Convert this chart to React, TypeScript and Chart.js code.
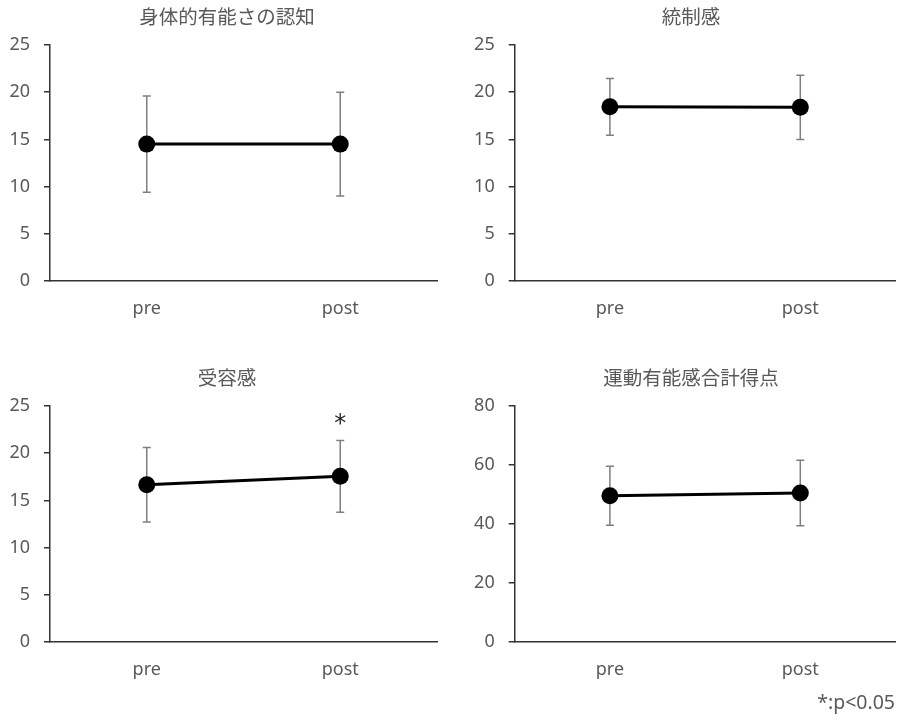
import React, { useEffect, useRef } from 'react';
import { Chart, registerables } from 'chart.js';
Chart.register(...registerables);

const categories = ['pre', 'post'];
const panelTitles = ['身体的有能さの認知', '統制感', '受容感', '運動有能感合計得点'];
const competenceMean = [14.5, 14.5];
const competenceSD = [5.1, 5.5];
const controlMean = [18.45, 18.4];
const controlSD = [3.0, 3.4];
const acceptanceMean = [16.65, 17.55];
const acceptanceSD = [3.95, 3.8];
const acceptanceMarks = ['', '*'];
const totalMean = [49.6, 50.5];
const totalSD = [10.0, 11.1];
const subscaleMax = 25;
const subscaleStep = 5;
const totalMax = 80;
const totalStep = 20;
const footnoteText = '*:p<0.05';

const CJK = '"Noto Sans CJK JP", "Noto Sans", sans-serif';
const LATIN = '"Noto Sans", "Noto Sans CJK JP", sans-serif';
const TEXT = '#595959';
const AXIS = '#333333';

type PanelCfg = {
  title: string;
  means: number[];
  sds: number[];
  max: number;
  step: number;
  marks?: string[];
  footnote?: string;
  left: number;
  top: number;
  titleX: number;
  axisW: number;
  padRight: number;
};

function Panel({ cfg }: { cfg: PanelCfg }) {
  const ref = useRef<HTMLCanvasElement>(null);
  useEffect(() => {
    if (!ref.current) return;
    const plugin = {
      id: 'errExtras',
      beforeDatasetsDraw(chart: any) {
        const ctx = chart.ctx;
        const meta = chart.getDatasetMeta(0);
        const y = chart.scales.y;
        ctx.save();
        ctx.strokeStyle = '#7f7f7f';
        ctx.lineWidth = 1.5;
        meta.data.forEach((pt: any, i: number) => {
          const x = pt.x;
          const t = y.getPixelForValue(cfg.means[i] + cfg.sds[i]);
          const b = y.getPixelForValue(cfg.means[i] - cfg.sds[i]);
          ctx.beginPath();
          ctx.moveTo(x, t);
          ctx.lineTo(x, b);
          ctx.moveTo(x - 4, t);
          ctx.lineTo(x + 4, t);
          ctx.moveTo(x - 4, b);
          ctx.lineTo(x + 4, b);
          ctx.stroke();
        });
        ctx.restore();
      },
      afterDatasetsDraw(chart: any) {
        const ctx = chart.ctx;
        const meta = chart.getDatasetMeta(0);
        const y = chart.scales.y;
        ctx.save();
        // panel title
        ctx.fillStyle = TEXT;
        ctx.font = `19.5px ${CJK}`;
        ctx.textAlign = 'center';
        ctx.textBaseline = 'middle';
        ctx.fillText(cfg.title, cfg.titleX, 17);
        if (cfg.marks) {
          ctx.fillStyle = '#262626';
          ctx.textAlign = 'center';
          ctx.textBaseline = 'alphabetic';
          meta.data.forEach((pt: any, i: number) => {
            const m = cfg.marks![i];
            if (!m) return;
            ctx.font = `24px "DejaVu Sans", sans-serif`;
            let mt = ctx.measureText(m);
            const w = (mt.actualBoundingBoxLeft || 0) + (mt.actualBoundingBoxRight || 0);
            const size = w > 0 ? (24 * 12) / w : 24;
            ctx.font = `${size}px "DejaVu Sans", sans-serif`;
            mt = ctx.measureText(m);
            const asc = mt.actualBoundingBoxAscent || size * 0.75;
            const desc = mt.actualBoundingBoxDescent || -size * 0.35;
            const t = y.getPixelForValue(cfg.means[i] + cfg.sds[i]);
            const center = t - 21;
            ctx.fillText(m, pt.x, center + (asc - desc) / 2);
          });
        }
        if (cfg.footnote) {
          ctx.fillStyle = TEXT;
          ctx.font = `19.5px ${LATIN}`;
          ctx.textAlign = 'right';
          ctx.textBaseline = 'middle';
          ctx.fillText(cfg.footnote, chart.width - 9, chart.height - 18);
        }
        ctx.restore();
      },
    };
    const chart = new Chart(ref.current, {
      type: 'line',
      data: {
        labels: categories,
        datasets: [
          {
            data: cfg.means,
            borderColor: '#000000',
            backgroundColor: '#000000',
            borderWidth: 3,
            pointRadius: 8.5,
            pointBackgroundColor: '#000000',
            pointBorderColor: '#000000',
            pointBorderWidth: 0,
          },
        ],
      },
      options: {
        animation: false,
        responsive: false,
        events: [],
        layout: { padding: { top: 45, left: 0, right: cfg.padRight, bottom: 0 } },
        plugins: {
          legend: { display: false },
          tooltip: { enabled: false },
          title: { display: false },
        },
        scales: {
          x: {
            type: 'category',
            offset: true,
            grid: { display: false, drawTicks: false },
            border: { display: true, color: AXIS, width: 1.5 },
            ticks: { color: TEXT, font: { family: LATIN, size: 18 }, padding: 17 },
            afterFit(scale: any) {
              scale.height = 79;
            },
          },
          y: {
            min: 0,
            max: cfg.max,
            ticks: { stepSize: cfg.step, color: TEXT, font: { family: LATIN, size: 18 }, padding: 14 },
            grid: { drawOnChartArea: false, drawTicks: true, tickLength: 6, color: AXIS, lineWidth: 1.5 },
            border: { display: true, color: AXIS, width: 1.5 },
            afterFit(scale: any) {
              scale.width = cfg.axisW;
            },
          },
        },
      } as any,
      plugins: [plugin],
    });
    return () => chart.destroy();
  }, []);
  return (
    <canvas
      ref={ref}
      width={452}
      height={360}
      style={{ position: 'absolute', left: cfg.left, top: cfg.top, width: 452, height: 360 }}
    />
  );
}

const panels: PanelCfg[] = [
  { title: panelTitles[0], means: competenceMean, sds: competenceSD, max: subscaleMax, step: subscaleStep, left: 0, top: 0, titleX: 227, axisW: 50, padRight: 15 },
  { title: panelTitles[1], means: controlMean, sds: controlSD, max: subscaleMax, step: subscaleStep, left: 452, top: 0, titleX: 239, axisW: 62.7, padRight: 2 },
  { title: panelTitles[2], means: acceptanceMean, sds: acceptanceSD, max: subscaleMax, step: subscaleStep, marks: acceptanceMarks, left: 0, top: 361, titleX: 227, axisW: 50, padRight: 15 },
  { title: panelTitles[3], means: totalMean, sds: totalSD, max: totalMax, step: totalStep, footnote: footnoteText, left: 452, top: 361, titleX: 239, axisW: 62.7, padRight: 2 },
];

export default function App() {
  return (
    <div style={{ position: 'absolute', left: 0, top: 0, width: 904, height: 720, background: '#ffffff', overflow: 'hidden' }}>
      {panels.map((p, i) => (
        <Panel key={i} cfg={p} />
      ))}
    </div>
  );
}
